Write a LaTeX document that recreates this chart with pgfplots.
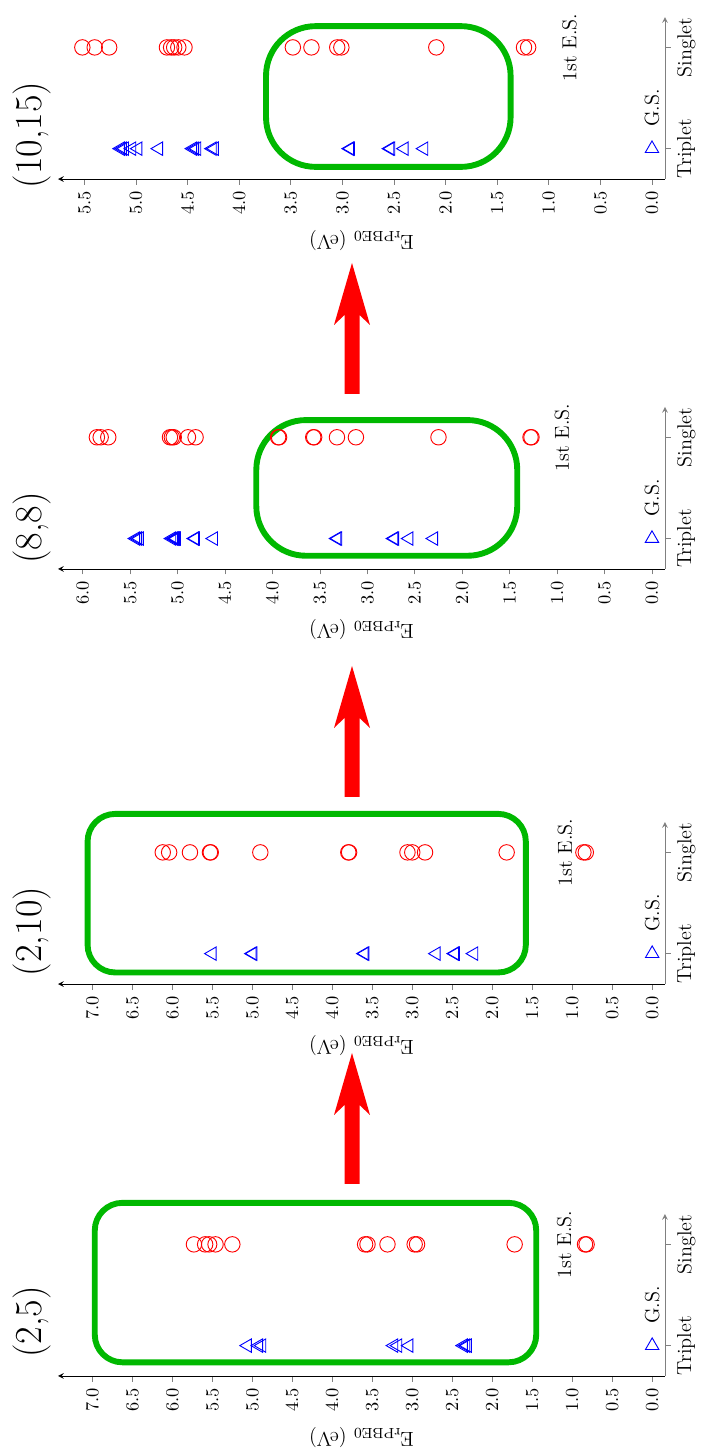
\documentclass[border=0pt]{standalone}
\usepackage{pgfplots}
\pgfplotsset{compat=1.18}
\definecolor{boxgreen}{RGB}{0,184,0}
\tikzset{gbox/.style={boxgreen, line width=3.2pt}}
\pgfplotsset{
 panel/.style={
   scale only axis, width=329.9pt, height=88.05pt, anchor=center,
   x dir=reverse, axis x line=bottom, axis y line=right,
   ymin=-0.3, ymax=1.3, ytick={0,1}, yticklabels={Triplet,Singlet},
   clip=false,
   tick align=outside,
   tick style={gray, thin},
   major tick length=3pt,
   x axis line style={black},
   y axis line style={gray},
   xticklabel={\pgfmathprintnumber[fixed,fixed zerofill,precision=1]{\tick}},
   x tick label style={rotate=90, anchor=east, font=\fontsize{10}{12}\selectfont},
   y tick label style={rotate=90, anchor=north, font=\fontsize{11}{13}\selectfont},
   xlabel={E$_{\mathrm{rPBE0}}$ (eV)},
   x label style={at={(axis description cs:0.5,0)}, anchor=center, yshift=-33.2pt, rotate=180, font=\fontsize{11}{13}\selectfont},
 },
 trip/.style={only marks, mark=triangle, mark size=4.2pt, blue, mark options={rotate=90, line width=0.5pt}},
 sing/.style={only marks, mark=o, mark size=4.2pt, red, mark options={line width=0.5pt}},
 gs/.style={only marks, mark=triangle, mark size=4.2pt, blue, mark options={line width=0.5pt}},
}
\newcommand{\lbl}{\fontsize{11}{13}\selectfont}
\begin{document}
\begin{tikzpicture}
\begin{scope}[x=0.5435pt, y=-0.5435pt, shift={(0pt,790.79pt)}]
  \path[use as bounding box] (0,0) rectangle (696,1455);
  \node[rotate=90, font=\huge] at (32,1322) {(2,5)};
  \node[rotate=90, font=\huge] at (32,931.5) {(2,10)};
  \node[rotate=90, font=\huge] at (32,528) {(8,8)};
  \node[rotate=90, font=\huge] at (32,135) {(10,15)};
  \fill[red] (352,1053) -- (370,1115) -- (359.5,1105) -- (359.5,1184) -- (344.5,1184) -- (344.5,1105) -- (334,1115) -- cycle;
  \fill[red] (352,666) -- (370,728) -- (359.5,718) -- (359.5,797) -- (344.5,797) -- (344.5,718) -- (334,728) -- cycle;
  \fill[red] (352,263) -- (370,325) -- (359.5,315) -- (359.5,394) -- (344.5,394) -- (344.5,315) -- (334,325) -- cycle;
\end{scope}

% Panel (2,5)
\begin{axis}[panel, at={(196.47pt,86.96pt)}, xmin=-0.16, xmax=7.43, xtick={0,0.5,...,7}]
  \draw[gbox, rounded corners=15pt] (axis cs:6.97,-0.165) rectangle (axis cs:1.45,1.41);
  \addplot[trip] coordinates {(5.06,0) (4.92,0) (4.88,0) (3.23,0) (3.18,0) (3.04,0) (2.36,0) (2.33,0) (2.31,0)};
  \addplot[sing] coordinates {(5.73,1) (5.59,1) (5.54,1) (5.46,1) (5.25,1) (3.59,1) (3.56,1) (3.31,1) (2.97,1) (2.94,1) (1.72,1) (0.84,1) (0.82,1)};
  \addplot[gs] coordinates {(0,0)};
  \node[rotate=90, font=\lbl] at (axis cs:1.10,1.0) {1st E.S.};
  \node[rotate=90, font=\lbl] at (axis cs:0,0.40) {G.S.};
\end{axis}

% Panel (2,10)
\begin{axis}[panel, at={(196.47pt,300.0pt)}, xmin=-0.16, xmax=7.43, xtick={0,0.5,...,7}]
  \draw[gbox, rounded corners=15pt] (axis cs:7.06,-0.186) rectangle (axis cs:1.58,1.38);
  \addplot[trip] coordinates {(5.50,0) (5.00,0) (4.99,0) (3.60,0) (3.59,0) (2.70,0) (2.47,0) (2.46,0) (2.23,0)};
  \addplot[sing] coordinates {(6.12,1) (6.04,1) (5.78,1) (5.53,1) (5.52,1) (4.90,1) (3.80,1) (3.79,1) (3.06,1) (3.00,1) (2.84,1) (1.82,1) (0.86,1) (0.83,1)};
  \addplot[gs] coordinates {(0,0)};
  \node[rotate=90, font=\lbl] at (axis cs:1.09,1.0) {1st E.S.};
  \node[rotate=90, font=\lbl] at (axis cs:0,0.40) {G.S.};
\end{axis}

% Panel (8,8)
\begin{axis}[panel, at={(196.47pt,525.6pt)}, xmin=-0.137, xmax=6.26, xtick={0,0.5,...,6}]
  \draw[gbox, rounded corners=27pt] (axis cs:4.17,-0.17) rectangle (axis cs:1.42,1.17);
  \addplot[trip] coordinates {(5.44,0) (5.42,0) (5.40,0) (5.06,0) (5.04,0) (5.03,0) (5.02,0) (5.01,0) (4.82,0) (4.81,0) (4.62,0) (3.32,0) (3.31,0) (2.72,0) (2.71,0) (2.56,0) (2.30,0)};
  \addplot[sing] coordinates {(5.85,1) (5.81,1) (5.73,1) (5.08,1) (5.06,1) (5.04,1) (4.89,1) (4.81,1) (3.94,1) (3.93,1) (3.57,1) (3.56,1) (3.32,1) (3.12,1) (2.25,1) (1.28,1) (1.27,1)};
  \addplot[gs] coordinates {(0,0)};
  \node[rotate=90, font=\lbl] at (axis cs:0.95,1.0) {1st E.S.};
  \node[rotate=90, font=\lbl] at (axis cs:0,0.40) {G.S.};
\end{axis}

% Panel (10,15)
\begin{axis}[panel, at={(196.47pt,737.5pt)}, xmin=-0.126, xmax=5.756, xtick={0,0.5,...,5.5}]
  \draw[gbox, rounded corners=27pt] (axis cs:3.74,-0.18) rectangle (axis cs:1.37,1.21);
  \addplot[trip] coordinates {(5.15,0) (5.13,0) (5.11,0) (5.04,0) (4.98,0) (4.78,0) (4.45,0) (4.43,0) (4.41,0) (4.26,0) (4.24,0) (2.93,0) (2.92,0) (2.54,0) (2.53,0) (2.40,0) (2.21,0)};
  \addplot[sing] coordinates {(5.52,1) (5.40,1) (5.26,1) (4.70,1) (4.66,1) (4.63,1) (4.59,1) (4.53,1) (3.48,1) (3.30,1) (3.05,1) (3.01,1) (2.09,1) (1.24,1) (1.20,1)};
  \addplot[gs] coordinates {(0,0)};
  \node[rotate=90, font=\lbl] at (axis cs:0.80,1.0) {1st E.S.};
  \node[rotate=90, font=\lbl] at (axis cs:0,0.40) {G.S.};
\end{axis}
\end{tikzpicture}
\end{document}
